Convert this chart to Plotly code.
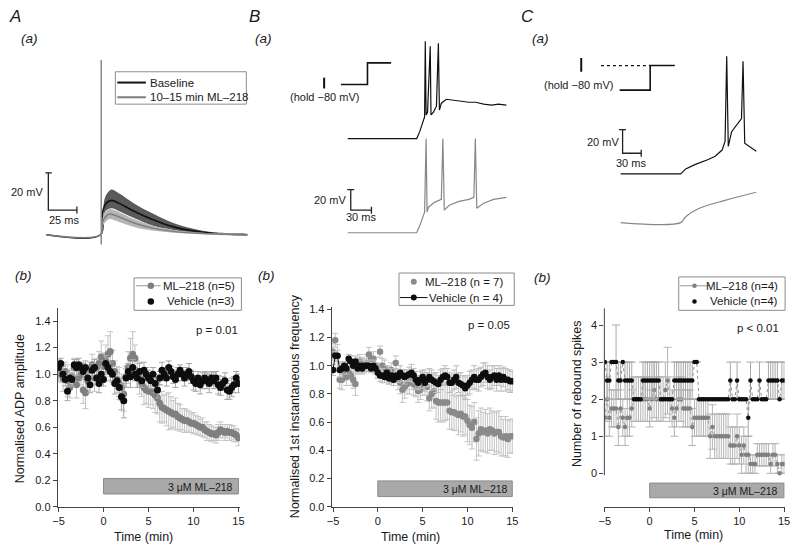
import plotly.graph_objects as go

W, H = 798, 550
FONT = "Liberation Sans, Arial, Helvetica, sans-serif"
INK = "#1a1a1a"

# ---------------- time base of the bottom panels (min) ----------------
time_min = [
    -5.0, -4.75, -4.5, -4.25, -4.0, -3.75, -3.5, -3.25, -3.0, -2.75, -2.5, -2.25, -2.0, -1.75, -1.5, -1.25, -1.0, -0.75, -0.5, -0.25, 0.0,
    0.25, 0.5, 0.75, 1.0, 1.25, 1.5, 1.75, 2.0, 2.25, 2.5, 2.75, 3.0, 3.25, 3.5, 3.75, 4.0, 4.25, 4.5, 4.75, 5.0,
    5.25, 5.5, 5.75, 6.0, 6.25, 6.5, 6.75, 7.0, 7.25, 7.5, 7.75, 8.0, 8.25, 8.5, 8.75, 9.0, 9.25, 9.5, 9.75, 10.0,
    10.25, 10.5, 10.75, 11.0, 11.25, 11.5, 11.75, 12.0, 12.25, 12.5, 12.75, 13.0, 13.25, 13.5, 13.75, 14.0, 14.25, 14.5, 14.75, 15.0,
]

# ---------------- A(b) normalised ADP amplitude ----------------
adp_ml218 = [
    1.03, 1.00, 0.97, 1.02, 0.95, 0.90, 0.98, 1.05, 0.92, 0.97, 1.00, 0.88, 0.86, 0.95, 1.03, 1.07, 0.97, 1.05, 1.08, 1.13, 1.06,
    1.10, 1.15, 1.17, 1.08, 1.02, 0.96, 0.93, 0.90, 0.85, 0.98, 1.05, 1.12, 1.15, 1.12, 1.00, 0.97, 0.93, 0.90, 0.88, 0.87,
    0.87, 0.86, 0.84, 0.82, 0.78, 0.75, 0.74, 0.73, 0.72, 0.71, 0.70, 0.70, 0.68, 0.67, 0.66, 0.65, 0.65, 0.64, 0.63, 0.63,
    0.62, 0.61, 0.60, 0.60, 0.58, 0.57, 0.56, 0.55, 0.55, 0.54, 0.56, 0.58, 0.57, 0.56, 0.57, 0.56, 0.56, 0.55, 0.54, 0.52,
]
adp_ml218_sem = [
    0.08, 0.06, 0.10, 0.07, 0.12, 0.08, 0.06, 0.07, 0.10, 0.06, 0.08, 0.10, 0.12, 0.07, 0.06, 0.08, 0.10, 0.07, 0.09, 0.12, 0.10,
    0.12, 0.14, 0.15, 0.10, 0.08, 0.10, 0.12, 0.10, 0.13, 0.08, 0.12, 0.15, 0.17, 0.10, 0.10, 0.12, 0.10, 0.13, 0.10, 0.12,
    0.10, 0.12, 0.13, 0.12, 0.14, 0.12, 0.10, 0.12, 0.14, 0.12, 0.10, 0.12, 0.10, 0.10, 0.08, 0.09, 0.08, 0.08, 0.07, 0.08,
    0.07, 0.07, 0.06, 0.07, 0.06, 0.07, 0.06, 0.06, 0.05, 0.06, 0.06, 0.06, 0.05, 0.06, 0.05, 0.06, 0.05, 0.06, 0.05, 0.06,
]
adp_vehicle = [
    1.05, 1.08, 1.00, 0.96, 0.87, 0.97, 0.96, 1.07, 1.05, 1.07, 1.05, 1.02, 1.05, 0.97, 0.92, 1.03, 1.05, 0.97, 0.93, 1.00, 0.96,
    1.08, 1.05, 1.02, 1.00, 0.93, 0.95, 0.90, 0.83, 0.80, 0.97, 1.02, 0.98, 1.05, 1.00, 0.97, 1.02, 0.95, 1.03, 1.00, 0.97,
    0.95, 1.00, 0.93, 0.88, 0.97, 1.03, 1.00, 0.97, 1.05, 1.02, 0.98, 0.96, 1.00, 1.03, 1.00, 0.97, 1.00, 1.02, 0.98, 0.95,
    0.93, 0.97, 0.92, 0.95, 0.97, 0.95, 0.93, 0.97, 0.95, 0.97, 0.92, 0.90, 0.93, 0.95, 0.88, 0.87, 0.90, 0.92, 0.97, 0.93,
]
adp_vehicle_sem = [
    0.05, 0.04, 0.06, 0.05, 0.07, 0.06, 0.05, 0.04, 0.06, 0.05, 0.04, 0.06, 0.05, 0.07, 0.06, 0.05, 0.06, 0.05, 0.07, 0.06, 0.05,
    0.06, 0.05, 0.07, 0.06, 0.08, 0.06, 0.07, 0.10, 0.13, 0.07, 0.06, 0.08, 0.06, 0.05, 0.07, 0.06, 0.05, 0.06, 0.05, 0.06,
    0.06, 0.05, 0.07, 0.06, 0.05, 0.06, 0.05, 0.06, 0.05, 0.04, 0.05, 0.06, 0.05, 0.04, 0.05, 0.06, 0.05, 0.06, 0.05, 0.07,
    0.06, 0.05, 0.07, 0.06, 0.05, 0.06, 0.07, 0.05, 0.06, 0.05, 0.07, 0.06, 0.05, 0.06, 0.07, 0.06, 0.07, 0.06, 0.05, 0.07,
]

# ---------------- B(b) normalised 1st instantaneous frequency ----------------
freq_ml218 = [
    1.10, 1.18, 1.07, 0.90, 0.90, 0.95, 0.92, 0.95, 0.93, 0.90, 0.87, 1.00, 1.03, 1.00, 1.00, 1.02, 1.08, 1.05, 1.05, 1.00, 0.97,
    1.10, 1.00, 0.98, 0.95, 0.93, 0.97, 0.92, 1.02, 0.90, 0.88, 0.83, 0.85, 0.87, 0.88, 0.90, 0.87, 0.85, 0.82, 0.83, 0.87,
    0.88, 0.85, 0.77, 0.80, 0.82, 0.75, 0.74, 0.74, 0.74, 0.74, 0.74, 0.68, 0.67, 0.67, 0.66, 0.65, 0.66, 0.64, 0.64, 0.61,
    0.58, 0.56, 0.60, 0.48, 0.52, 0.55, 0.53, 0.54, 0.52, 0.55, 0.54, 0.52, 0.53, 0.53, 0.50, 0.49, 0.50, 0.48, 0.50, 0.50,
]
freq_ml218_sem = [
    0.06, 0.05, 0.08, 0.06, 0.07, 0.05, 0.06, 0.05, 0.07, 0.06, 0.08, 0.06, 0.05, 0.06, 0.05, 0.06, 0.05, 0.04, 0.05, 0.06, 0.05,
    0.04, 0.05, 0.06, 0.05, 0.06, 0.05, 0.06, 0.05, 0.07, 0.08, 0.09, 0.08, 0.07, 0.08, 0.07, 0.08, 0.07, 0.08, 0.07, 0.08,
    0.09, 0.10, 0.09, 0.10, 0.12, 0.13, 0.14, 0.13, 0.14, 0.13, 0.12, 0.13, 0.12, 0.13, 0.12, 0.14, 0.13, 0.14, 0.13, 0.15,
    0.14, 0.15, 0.14, 0.15, 0.16, 0.15, 0.14, 0.15, 0.14, 0.15, 0.14, 0.15, 0.14, 0.15, 0.14, 0.13, 0.14, 0.13, 0.12, 0.12,
]
freq_vehicle = [
    0.97, 1.07, 1.07, 0.97, 0.98, 1.00, 0.98, 1.05, 1.03, 1.00, 1.03, 0.98, 1.00, 0.98, 1.00, 1.00, 1.00, 0.98, 1.00, 0.98, 0.95,
    0.93, 0.93, 0.92, 0.95, 0.91, 0.93, 0.90, 0.93, 0.92, 0.95, 0.93, 0.92, 0.93, 0.94, 0.95, 0.93, 0.90, 0.88, 0.90, 0.92,
    0.88, 0.90, 0.92, 0.90, 0.89, 0.88, 0.87, 0.90, 0.92, 0.93, 0.92, 0.88, 0.88, 0.90, 0.92, 0.88, 0.87, 0.86, 0.84, 0.86,
    0.88, 0.90, 0.92, 0.90, 0.90, 0.92, 0.94, 0.95, 0.92, 0.90, 0.92, 0.93, 0.90, 0.93, 0.90, 0.92, 0.90, 0.90, 0.89, 0.89,
]
freq_vehicle_sem = [
    0.04, 0.03, 0.04, 0.05, 0.04, 0.03, 0.04, 0.03, 0.04, 0.03, 0.04, 0.03, 0.04, 0.03, 0.04, 0.03, 0.04, 0.03, 0.04, 0.03, 0.04,
    0.04, 0.05, 0.04, 0.05, 0.04, 0.05, 0.04, 0.05, 0.04, 0.05, 0.04, 0.05, 0.04, 0.05, 0.06, 0.05, 0.06, 0.05, 0.06, 0.05,
    0.06, 0.05, 0.06, 0.07, 0.06, 0.07, 0.06, 0.07, 0.06, 0.07, 0.06, 0.07, 0.06, 0.07, 0.08, 0.07, 0.08, 0.07, 0.08, 0.07,
    0.08, 0.07, 0.08, 0.07, 0.08, 0.07, 0.08, 0.07, 0.08, 0.07, 0.08, 0.07, 0.08, 0.07, 0.08, 0.07, 0.08, 0.07, 0.08, 0.07,
]

# ---------------- C(b) number of rebound spikes ----------------
spikes_ml218 = [
    1.5, 2, 1.5, 1.75, 1.75, 1.75, 1.25, 1.75, 1.5, 1.25, 1.5, 1.5, 1.75, 2, 2, 2, 2, 2, 2, 2, 1.75,
    2, 2.25, 2, 2, 2, 2, 2.25, 2.5, 2, 1.75, 1.5, 1.75, 2, 2, 1.75, 1.75, 1.75, 1.75, 1.25, 1.5,
    1.5, 1.5, 1.5, 1.5, 1.5, 1.5, 1.0, 1.25, 1.0, 1.0, 1.0, 1.0, 1.0, 1.0, 1.0, 0.75, 0.75, 0.75, 1.0, 0.75,
    0.5, 0.75, 0.5, 0.5, 0.25, 0.25, 0.25, 0.5, 0.5, 0.5, 0.5, 0.5, 0.5, 0.25, 0.5, 0.5, 0.25, 0.0, 0.25, 0.25,
]
spikes_ml218_sem = [
    0.5, 0.6, 0.5, 0.5, 0.5, 0.5, 0.5, 0.5, 0.5, 0.5, 0.5, 0.5, 0.5, 0.6, 0.6, 0.6, 0.6, 0.6, 0.6, 0.6, 0.5,
    0.6, 0.75, 0.6, 0.6, 0.6, 0.6, 0.75, 0.9, 0.6, 0.5, 0.5, 0.5, 0.6, 0.6, 0.5, 0.5, 0.5, 0.5, 0.5, 0.5,
    0.5, 0.5, 0.5, 0.5, 0.5, 0.5, 0.6, 0.6, 0.6, 0.6, 0.6, 0.6, 0.6, 0.6, 0.6, 0.5, 0.5, 0.5, 0.6, 0.5,
    0.5, 0.5, 0.5, 0.5, 0.25, 0.25, 0.25, 0.3, 0.3, 0.3, 0.3, 0.3, 0.3, 0.25, 0.3, 0.3, 0.25, 0.0, 0.25, 0.25,
]
spikes_vehicle = [
    3, 2.5, 2.5, 3, 3, 3, 2.5, 2.5, 3, 2.5, 2.5, 2.5, 2.5, 2, 2, 2, 2, 2.5, 2.5, 2.5, 2.5,
    2.5, 2.5, 2.5, 2.5, 2, 2, 2, 2, 2, 2, 2.5, 2.5, 2.5, 2.5, 2.5, 2.5, 2.5, 2.5, 2.5, 3,
    3, 2, 2, 2, 2, 2, 2, 2, 2, 2, 2, 2, 2, 2, 2, 2.5, 2, 2, 2.5, 2,
    2, 2, 2, 1.5, 2.5, 2, 2, 2, 2.5, 2, 2, 2, 2.5, 2.5, 2.5, 2.5, 2.5, 2, 2.5, 2.5,
]
spikes_vehicle_sem = [
    0, 0.5, 0.5, 0, 0, 1.0, 0.5, 0.5, 0, 0.5, 0.5, 0.5, 0.5, 0, 0, 0, 0, 0.5, 0.5, 0.5, 0.5,
    0.5, 0.5, 0.5, 0.5, 0, 0, 0, 0, 0, 0, 0.5, 0.5, 0.5, 0.5, 0.5, 0.5, 0.5, 0.5, 0.5, 0,
    0, 0, 0, 0, 0, 0, 0, 0, 0, 0, 0, 0, 0, 0, 0, 0.5, 0, 0, 0.5, 0,
    0, 0, 0, 0.5, 0.5, 0, 0, 0, 0.5, 0, 0, 0, 0.5, 0.5, 0.5, 0.5, 0.5, 0, 0.5, 0.5,
]

for arr in (adp_ml218, adp_ml218_sem, adp_vehicle, adp_vehicle_sem, freq_ml218, freq_ml218_sem,
            freq_vehicle, freq_vehicle_sem, spikes_ml218, spikes_ml218_sem, spikes_vehicle, spikes_vehicle_sem):
    assert len(arr) == len(time_min), len(arr)

# ---------------- A(a) averaged ADP traces (ms, mV) ----------------
a_base_t = [0, 47.5, 49.1, 51.7, 56.9, 63.8, 76.7, 94.0, 111.2, 128.4, 145.7, 175.9]
a_base_v = [-70, -70, -58.4, -53.7, -51.6, -53.2, -57.4, -62.1, -65.8, -67.9, -69.2, -70]
a_base_band_t = [50, 51.7, 56.9, 63.8, 76.7, 94.0, 111.2, 128.4, 145.7, 175.9]
a_base_hi = [-54.2, -49.5, -45.8, -47.9, -53.2, -58.9, -63.7, -66.8, -68.7, -69.7]
a_base_lo = [-61.1, -57.4, -55.8, -57.4, -61.1, -65.3, -67.4, -68.9, -69.6, -70.1]
a_ml_t = [0, 47.5, 49.1, 51.7, 55.2, 63.8, 76.7, 94.0, 111.2, 137.1, 175.9]
a_ml_v = [-70, -70, -63.2, -60.5, -58.9, -60.5, -63.7, -66.6, -68.2, -69.4, -70]
a_ml_band_t = [49.1, 51.7, 55.2, 63.8, 76.7, 94.0, 111.2, 137.1, 175.9]
a_ml_hi = [-61.1, -57.9, -56.3, -57.9, -61.6, -65.3, -67.4, -68.9, -69.8]
a_ml_lo = [-65.3, -63.2, -61.6, -63.2, -65.8, -67.9, -68.9, -69.7, -70.2]
a_stim_t = [48.0, 48.0]
a_stim_v = [-75.3, 23.7]

# ---------------- B(a) step-evoked firing (ms, mV) ----------------
b_base_t = [0, 100, 104.3, 108.6, 111.4, 112.4, 113.6, 115.7, 119.6, 120.7, 124.3, 128.6, 131.4, 132.9,
            135.7, 142.9, 154.3, 175.7, 185.7, 197.1, 208.6, 218.6, 230]
b_base_v = [-80, -80, -73.3, -65.7, -59, 14.3, -57.1, -54.3, 9.5, -57.1, -54.3, -48.6, 12.4, -52.4,
            -45.7, -41.9, -42.9, -44.8, -44.8, -46.7, -47.6, -46.7, -47.6]
b_ml_t = [0, 100, 104.3, 108.6, 111.4, 113.6, 115, 117.1, 125.7, 135.7, 137.9, 140, 147.1, 161.4,
          175.7, 182.9, 185, 187.1, 197.1, 211.4, 230]
b_ml_v = [-80, -80, -73.3, -65.7, -60, 11.4, -60, -55.2, -50.5, -47.6, 11.4, -58.1, -53.3, -49.5,
          -47.6, -45.7, 11.4, -56.2, -51.4, -47.6, -45.7]

# ---------------- C(a) rebound firing (ms, mV) ----------------
c_base_t = [0, 96.8, 104.8, 120.6, 141.3, 152.4, 163.5, 168.3, 171, 173.5, 178.9, 186.8, 194.8, 197.3, 200, 218.6]
c_base_v = [-80, -80, -75.8, -71.9, -67.8, -65, -59.8, -52.5, 19.8, -56.7, -44.2, -38.6, -33.1, 15.6, -53.9, -60.8]
c_ml_t = [0, 96.8, 104.8, 125.9, 168.3, 218.6]
c_ml_v = [-80, -80, -75, -68, -61.1, -54.2]

# display offsets of the upper (baseline) traces, mV
B_OFFSET = 91.4
C_OFFSET = 41.4


# ---------------- geometry helpers (pixel -> layout) ----------------
def xdom(p0, p1):
    return [p0 / W, p1 / W]


def ydom(top, bot):
    return [1 - bot / H, 1 - top / H]


def xrng(p0, p1, ap, av, ppu):
    return [av + (p0 - ap) / ppu, av + (p1 - ap) / ppu]


def yrng(top, bot, ap, av, ppu):
    return [av + (ap - bot) / ppu, av + (ap - top) / ppu]


fig = go.Figure()

GRAY_TR = "#878787"
BLACK_TR = "#111111"


def band(t, hi, lo, color, xa, ya):
    fig.add_trace(go.Scatter(x=t + t[::-1], y=hi + lo[::-1], fill="toself", fillcolor=color,
                             line=dict(width=0, shape="spline"), mode="lines",
                             xaxis=xa, yaxis=ya, showlegend=False, hoverinfo="skip"))


def line(t, v, color, width, xa, ya, shape="linear", dash="solid"):
    fig.add_trace(go.Scatter(x=t, y=v, mode="lines", line=dict(color=color, width=width, shape=shape, dash=dash),
                             xaxis=xa, yaxis=ya, showlegend=False, hoverinfo="skip"))


def scalebar(x0, y0, dx, dy, xa, ya):
    fig.add_trace(go.Scatter(x=[x0, x0, x0 + dx], y=[y0 + dy, y0, y0], mode="lines",
                             line=dict(color="#222", width=1.3), xaxis=xa, yaxis=ya,
                             showlegend=False, hoverinfo="skip"))
    fig.add_trace(go.Scatter(x=[x0, x0 + dx], y=[y0 + dy, y0], mode="markers",
                             marker=dict(symbol=["line-ew", "line-ns"], size=5,
                                         line=dict(color="#222", width=1.3)),
                             xaxis=xa, yaxis=ya, showlegend=False, hoverinfo="skip"))


# A(a)
band(a_base_band_t, a_base_hi, a_base_lo, "#5a5a5a", "x", "y")
line(a_base_t, a_base_v, BLACK_TR, 1.6, "x", "y", shape="spline")
band(a_ml_band_t, a_ml_hi, a_ml_lo, "#b5b5b5", "x", "y")
line(a_ml_t, a_ml_v, "#7d7d7d", 1.5, "x", "y", shape="spline")
line(a_stim_t, a_stim_v, "#8a8a8a", 1.5, "x", "y")
scalebar(1.7, -56.8, 25, 20, "x", "y")

# B(a)
line(b_base_t, [v + B_OFFSET for v in b_base_v], BLACK_TR, 1.2, "x2", "y2")
line(b_ml_t, b_ml_v, GRAY_TR, 1.2, "x2", "y2")
scalebar(4.3, -58.1, 30, 20, "x2", "y2")

# C(a)
line(c_base_t, [v + C_OFFSET for v in c_base_v], BLACK_TR, 1.2, "x3", "y3")
line(c_ml_t, c_ml_v, GRAY_TR, 1.2, "x3", "y3", shape="spline")
scalebar(3.2, -21.1, 30, 20, "x3", "y3")

# bottom panels
GRAY_PT = "#7f7f7f"
fig.add_trace(go.Scatter(x=time_min, y=adp_ml218, mode="markers", xaxis="x4", yaxis="y4",
                         marker=dict(color=GRAY_PT, size=7),
                         error_y=dict(type="data", array=adp_ml218_sem, color="#c4c4c4", thickness=1, width=3),
                         showlegend=False))
fig.add_trace(go.Scatter(x=time_min, y=adp_vehicle, mode="markers", xaxis="x4", yaxis="y4",
                         marker=dict(color="#0d0d0d", size=7),
                         error_y=dict(type="data", array=adp_vehicle_sem, color="#a6a6a6", thickness=1, width=3),
                         showlegend=False))

fig.add_trace(go.Scatter(x=time_min, y=freq_ml218, mode="markers", xaxis="x5", yaxis="y5",
                         marker=dict(color="#8a8a8a", size=6.5),
                         error_y=dict(type="data", array=freq_ml218_sem, color="#c4c4c4", thickness=1, width=3),
                         showlegend=False))
fig.add_trace(go.Scatter(x=time_min, y=freq_vehicle, mode="lines+markers", xaxis="x5", yaxis="y5",
                         marker=dict(color="#0d0d0d", size=6.5), line=dict(color="#0d0d0d", width=1),
                         error_y=dict(type="data", array=freq_vehicle_sem, color="#bdbdbd", thickness=1, width=3),
                         showlegend=False))

fig.add_trace(go.Scatter(x=time_min, y=spikes_ml218, mode="lines+markers", xaxis="x6", yaxis="y6",
                         marker=dict(color="#808080", size=4.5), line=dict(color="#a0a0a0", width=1, dash="dot"),
                         error_y=dict(type="data", array=spikes_ml218_sem, color="#b5b5b5", thickness=1, width=4),
                         showlegend=False))
fig.add_trace(go.Scatter(x=time_min, y=spikes_vehicle, mode="lines+markers", xaxis="x6", yaxis="y6",
                         marker=dict(color="#0d0d0d", size=4.5), line=dict(color="#8f8f8f", width=1, dash="dot"),
                         error_y=dict(type="data", array=spikes_vehicle_sem, color="#a8a8a8", thickness=1, width=4),
                         showlegend=False))

# ---------------- overlay (pixel canvas) decorations ----------------
def ov_line(pts, color, width, dash="solid"):
    xs, ys = [], []
    for seg in pts:
        if seg is None:
            xs.append(None); ys.append(None)
        else:
            xs.append(seg[0]); ys.append(seg[1])
    fig.add_trace(go.Scatter(x=xs, y=ys, mode="lines", line=dict(color=color, width=width, dash=dash),
                             xaxis="x7", yaxis="y7", showlegend=False, hoverinfo="skip"))


def ov_dot(x, y, color, size):
    fig.add_trace(go.Scatter(x=[x], y=[y], mode="markers", marker=dict(color=color, size=size),
                             xaxis="x7", yaxis="y7", showlegend=False, hoverinfo="skip"))


# protocol icons
ov_line([(323, 75), (323, 86)], "#111", 2)
ov_line([(340, 82), (367, 82), (367, 60), (391, 60)], "#111", 1.6)
ov_line([(584, 55), (584, 69)], "#111", 2)
ov_line([(604, 62.7), (654, 62.7)], "#111", 1.2, dash="3px,3px")
ov_line([(623, 87.7), (654, 87.7), (654, 62.7), (679, 62.7)], "#111", 1.6)

# C(b) y axis line (only over the data range)
ov_line([(607.5, 310), (607.5, 480)], "#444", 1)

# legend symbols
ov_line([(113, 80), (142, 80)], "#111", 2)
ov_line([(113, 95), (142, 95)], "#7d7d7d", 2)
ov_line([(132, 287), (157, 287)], "#9a9a9a", 1)
ov_dot(147, 287, GRAY_PT, 6.5)
ov_dot(147, 303, "#0d0d0d", 6.5)
ov_dot(414, 283, "#8a8a8a", 6)
ov_line([(400, 299), (428, 299)], "#0d0d0d", 1)
ov_dot(414, 299, "#0d0d0d", 6)
ov_line([(684, 287), (715, 287)], "#9a9a9a", 1)
ov_dot(699, 287, "#808080", 4.5)
ov_dot(699, 303, "#0d0d0d", 4.5)

shapes = []
for (x0, y0, x1, y1) in [(111, 69, 244, 102), (130, 279, 239, 312), (399, 274, 516, 307), (683, 278, 791, 312)]:
    shapes.append(dict(type="rect", xref="x7", yref="y7", x0=x0, y0=y0, x1=x1, y1=y1,
                       line=dict(color="#8c8c8c", width=1), fillcolor="rgba(0,0,0,0)"))

# drug application bars (data coordinates)
for xa, ya, lo, hi in [("x4", "y4", 0.096, 0.213), ("x5", "y5", 0.072, 0.183), ("x6", "y6", -0.66, -0.264)]:
    shapes.append(dict(type="rect", xref=xa, yref=ya, x0=0, x1=15, y0=lo, y1=hi,
                       line=dict(color="#8a8a8a", width=1), fillcolor="#a9a9a9", layer="below"))

ann = []


def text(x, y, s, size=11.5, xanchor="center", angle=0, color=INK):
    ann.append(dict(xref="x7", yref="y7", x=x, y=y, text=s, showarrow=False, xanchor=xanchor,
                    yanchor="middle", textangle=angle, font=dict(family=FONT, size=size, color=color)))


# panel letters
text(9, 13, "<i>A</i>", 17)
text(252, 13, "<i>B</i>", 17)
text(529, 13, "<i>C</i>", 17)
text(24, 35, "<i>(a)</i>", 13.5)
text(261, 35, "<i>(a)</i>", 13.5)
text(543, 35, "<i>(a)</i>", 13.5)
text(18, 277, "<i>(b)</i>", 13.5)
text(264, 277, "<i>(b)</i>", 13.5)
text(545, 279, "<i>(b)</i>", 13.5)

# top legends / labels
text(144, 80, "Baseline", 11.5, "left")
text(144, 95, "10–15 min ML–218", 11.5, "left")
text(40, 191, "20 mV", 11, "right")
text(58.5, 220, "25 ms", 11)
text(347, 200, "20 mV", 11, "right")
text(360, 217, "30 ms", 11)
text(624, 141, "20 mV", 11, "right")
text(635, 162, "30 ms", 11)
text(323, 95, "(hold −80 mV)", 11)
text(581, 82, "(hold −80 mV)", 11)

# bottom legends
text(235, 287, "ML–218 (n=5)", 11.5, "right")
text(235, 303, "Vehicle (n=3)", 11.5, "right")
text(507, 283, "ML–218 (n = 7)", 11.5, "right")
text(507, 299, "Vehicle (n = 4)", 11.5, "right")
text(786, 287, "ML–218 (n=4)", 11.5, "right")
text(786, 303, "Vehicle (n=4)", 11.5, "right")

# p values
text(238, 332, "p = 0.01", 11.5, "right")
text(514, 327, "p = 0.05", 11.5, "right")
text(787, 330, "p < 0.01", 11.5, "right")

# bar labels
text(232, 492, "3 μM ML–218", 10.5, "right")
text(512, 494, "3 μM ML–218", 10.5, "right")
text(786, 496, "3 μM ML–218", 10.5, "right")

# axis titles
text(14, 412, "Normalised ADP amplitude", 12.5, angle=-90)
text(293, 410, "Normalised 1st instantaneous frequency", 12.5, angle=-90)
text(579, 397, "Number of rebound spikes", 12.5, angle=-90)
text(140, 543, "Time (min)", 12.5)
text(411, 543, "Time (min)", 12.5)
text(698, 541, "Time (min)", 12.5)

hidden = dict(visible=False, fixedrange=True, showgrid=False, zeroline=False)
tickfont = dict(family=FONT, size=11, color=INK)
xb = dict(showline=True, linecolor="#444", linewidth=1, ticks="outside", ticklen=4, tickcolor="#444",
          tickvals=[-5, 0, 5, 10, 15], showgrid=False, zeroline=False, tickfont=tickfont, fixedrange=True)
yb = dict(showline=True, linecolor="#444", linewidth=1, ticks="outside", ticklen=4, tickcolor="#444",
          showgrid=False, zeroline=False, tickfont=tickfont, fixedrange=True)

fig.update_layout(
    width=W, height=H, autosize=False,
    margin=dict(l=0, r=0, t=0, b=0, pad=0),
    paper_bgcolor="white", plot_bgcolor="rgba(0,0,0,0)",
    font=dict(family=FONT, color=INK),
    showlegend=False,
    xaxis=dict(hidden, domain=xdom(40, 248), range=xrng(40, 248, 41, 0, 1.16), anchor="y"),
    yaxis=dict(hidden, domain=ydom(50, 250), range=yrng(50, 250, 235, -70, 1.9), anchor="x"),
    xaxis2=dict(hidden, domain=xdom(300, 515), range=xrng(300, 515, 347, 0, 0.7), anchor="y2"),
    yaxis2=dict(hidden, domain=ydom(30, 245), range=yrng(30, 245, 233, -80, 1.05), anchor="x2"),
    xaxis3=dict(hidden, domain=xdom(575, 775), range=xrng(575, 775, 624, 0, 0.63), anchor="y3"),
    yaxis3=dict(hidden, domain=ydom(40, 235), range=yrng(40, 235, 222.7, -80, 1.2), anchor="x3"),
    xaxis4=dict(xb, domain=xdom(52.5, 237.5), range=xrng(52.5, 237.5, 53.3, -5, 9.135), anchor="y4"),
    yaxis4=dict(yb, domain=ydom(310, 512), range=yrng(310, 512, 512, 0, 135), anchor="x4",
                tickvals=[0, 0.2, 0.4, 0.6, 0.8, 1.0, 1.2, 1.4], tickformat=".1f"),
    xaxis5=dict(xb, domain=xdom(330.6, 515), range=xrng(330.6, 515, 332, -5, 9.1), anchor="y5"),
    yaxis5=dict(yb, domain=ydom(309, 512), range=yrng(309, 512, 512, 0, 143.57), anchor="x5",
                tickvals=[0, 0.2, 0.4, 0.6, 0.8, 1.0, 1.2, 1.4], tickformat=".1f"),
    xaxis6=dict(xb, domain=xdom(607.5, 790.5), range=xrng(607.5, 790.5, 608, -5, 9.1), anchor="y6"),
    yaxis6=dict(yb, showline=False, domain=ydom(310, 512), range=yrng(310, 512, 478, 0, 37.76), anchor="x6",
                tickvals=[0, 1, 2, 3, 4]),
    xaxis7=dict(hidden, domain=[0, 1], range=[0, W], anchor="y7"),
    yaxis7=dict(hidden, domain=[0, 1], range=[H, 0], anchor="x7"),
    shapes=shapes,
    annotations=ann,
)

fig.write_html("out.html", config={"displayModeBar": False},
               post_script="document.body.style.margin='0';")
